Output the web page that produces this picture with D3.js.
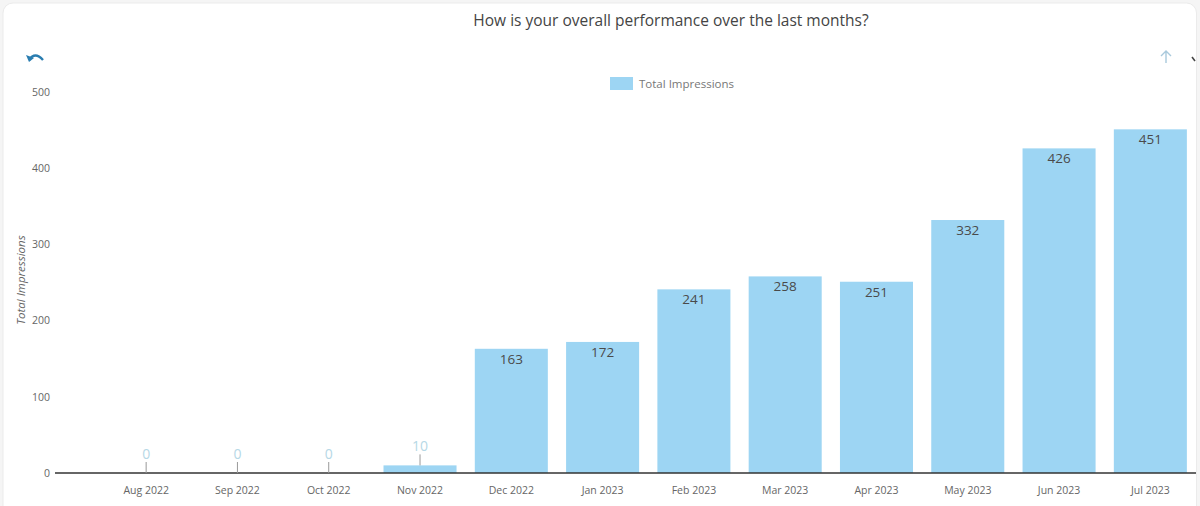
<!DOCTYPE html>
<html><head><meta charset="utf-8">
<script src="https://cdn.jsdelivr.net/npm/d3@7"></script>
<style>
html,body{margin:0;padding:0;background:#f5f5f5;}
svg{display:block;font-family:"Open Sans",sans-serif;}
</style></head><body>
<svg id="chart" width="1200" height="506"></svg>
<script>
const categories = ["Aug 2022","Sep 2022","Oct 2022","Nov 2022","Dec 2022","Jan 2023","Feb 2023","Mar 2023","Apr 2023","May 2023","Jun 2023","Jul 2023"];
const impressions = [0,0,0,10,163,172,241,258,251,332,426,451];
const yTicks = [0,100,200,300,400,500];
const seriesName = "Total Impressions";
const titleText = "How is your overall performance over the last months?";

const svg = d3.select("#chart");
// card
svg.append("rect").attr("x",3).attr("y",3).attr("width",1193.5).attr("height",520)
  .attr("rx",10).attr("fill","#fff").attr("stroke","#ebebeb");

const y = d3.scaleLinear().domain([0,500]).range([473,92]);
const x = d3.scaleBand().domain(categories).range([100.5,1196]).paddingInner(0.2).paddingOuter(0.1);
const barColor = "#9dd5f3";

svg.append("text").attr("x",671).attr("y",26).attr("text-anchor","middle")
  .attr("font-size",15.5).attr("fill","#444").text(titleText);

// y axis labels
const ya = svg.append("g").attr("transform","translate(50,0)")
  .call(d3.axisLeft(y).tickValues(yTicks).tickSize(0).tickPadding(0).tickFormat(d3.format("d")));
ya.select(".domain").remove();
ya.selectAll("text").attr("font-size",10.5).attr("fill","#666").attr("font-family","'Open Sans',sans-serif");

svg.append("text").attr("transform","translate(25,280) rotate(-90)").attr("text-anchor","middle")
  .attr("font-size",11.5).attr("font-style","italic").attr("fill","#666").text(seriesName);

// bars
svg.append("g").selectAll("rect").data(impressions).join("rect")
  .attr("x",(d,i)=>x(categories[i])).attr("width",x.bandwidth())
  .attr("y",d=>y(d)).attr("height",d=>y(0)-y(d)).attr("fill",barColor);

// axis
const xa = svg.append("g").attr("transform","translate(0,473)")
  .call(d3.axisBottom(x).tickSize(0).tickPadding(14));
xa.select(".domain").remove();
xa.selectAll("text").attr("font-size",10.5).attr("fill","#666").attr("font-family","'Open Sans',sans-serif");
svg.append("line").attr("x1",55).attr("x2",1196).attr("y1",y(0)).attr("y2",y(0))
  .attr("stroke","#333").attr("stroke-width",1.3);

// labels
const lab = svg.append("g");
impressions.forEach((d,i)=>{
  const cx = x(categories[i]) + x.bandwidth()/2;
  if (y(0)-y(d) < 30) {
    lab.append("line").attr("x1",cx).attr("x2",cx).attr("y1",y(d)).attr("y2",y(d)-11)
      .attr("stroke","#999").attr("stroke-width",1);
    lab.append("text").attr("x",cx).attr("y",y(d)-14).attr("text-anchor","middle")
      .attr("font-size",14).attr("fill","#b6d8e6").text(d);
  } else {
    lab.append("text").attr("x",cx).attr("y",y(d)+15).attr("text-anchor","middle")
      .attr("font-size",13.5).attr("fill","#4a4a4a").text(d);
  }
});

// legend
const lg = svg.append("g");
lg.append("rect").attr("x",610).attr("y",77).attr("width",23).attr("height",13).attr("fill",barColor);
lg.append("text").attr("x",639).attr("y",88).attr("font-size",11.5).attr("fill","#777").text(seriesName);

// icons
svg.append("path").attr("d","M29,60 Q35,51 43,60").attr("fill","none").attr("stroke","#2a7db0").attr("stroke-width",2.4);
svg.append("path").attr("d","M26,55 L29,62 L34,58 Z").attr("fill","#2a7db0");
svg.append("path").attr("d","M1166,51 L1166,63 M1161,56 L1166,51 L1171,56").attr("fill","none")
  .attr("stroke","#a9c9dc").attr("stroke-width",1.4);
svg.append("path").attr("d","M1192,57 L1195,61").attr("stroke","#444").attr("stroke-width",1.6);
</script>
</body></html>
